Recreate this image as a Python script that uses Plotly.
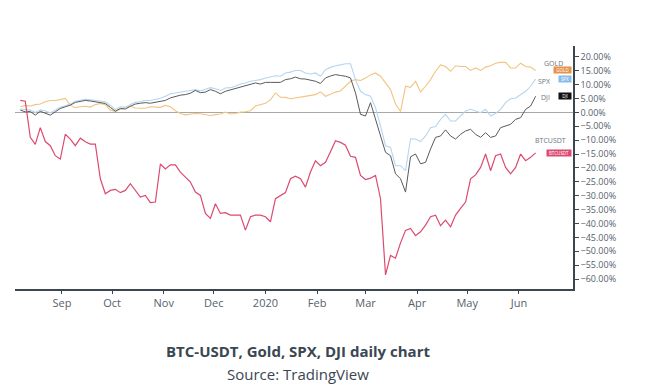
import plotly.graph_objects as go
import pandas as pd

# Dates: one reading every 3 days from Aug 7, 2019 to Jun 11, 2020
dates = pd.date_range("2019-08-07", periods=104, freq="3D")

btc = [4.3, 4.0, -9.0, -11.5, -5.5, -10.5, -12.0, -15.6, -16.8, -7.9,
       -9.6, -12.0, -9.3, -10.6, -11.4, -11.4, -23.9, -29.3, -28.1, -27.7,
       -28.9, -28.1, -25.7, -28.1, -30.5, -29.9, -32.5, -32.3, -18.6, -20.4,
       -18.9, -18.9, -21.5, -23.3, -25.1, -28.7, -29.9, -36.4, -38.2, -32.9,
       -36.4, -36.1, -37.0, -37.0, -37.0, -42.4, -37.6, -37.0, -37.0, -37.6,
       -39.4, -31.1, -29.9, -28.9, -23.9, -23.0, -23.9, -26.9, -21.5, -17.4,
       -19.2, -18.0, -14.2, -10.2, -10.8, -11.8, -15.8, -16.2, -22.7, -24.2,
       -23.7, -22.7, -31.1, -58.5, -51.5, -52.5, -47.0, -42.5, -41.8, -44.4,
       -43.0, -40.6, -37.6, -37.0, -40.8, -38.8, -41.2, -37.0, -34.6, -32.3,
       -23.9, -22.5, -19.8, -15.0, -21.0, -15.6, -15.0, -19.8, -22.1, -19.8,
       -15.0, -17.4, -16.2, -14.6]

gold = [2.0, 2.5, 2.3, 2.8, 3.0, 3.8, 4.3, 4.3, 4.6, 5.0,
        2.5, 1.7, 2.0, 2.2, 1.9, 2.8, 3.2, 2.8, 0.8, 0.3,
        1.1, 1.8, 2.2, 1.6, 1.5, 1.5, 2.0, 1.8, 1.8, 2.5,
        2.0, 0.6, -0.4, -0.9, -0.6, -0.4, -0.5, -0.9, -1.1, -0.8,
        -0.6, 0.1, -0.6, -0.4, 0.1, 0.2, 0.6, 2.3, 2.9, 3.3,
        4.5, 7.0, 5.5, 5.4, 4.9, 5.2, 5.5, 5.7, 6.1, 6.4,
        7.4, 5.8, 6.5, 7.3, 7.7, 9.4, 11.2, 11.8, 11.5, 12.4,
        13.5, 14.2, 13.0, 10.6, 8.2, 3.0, 0.3, 9.4, 9.0, 11.2,
        7.3, 9.4, 11.8, 14.8, 17.1, 16.5, 14.8, 16.8, 16.5, 16.5,
        15.1, 16.0, 15.1, 16.3, 16.8, 17.7, 18.0, 18.0, 16.0, 16.0,
        17.7, 16.5, 16.3, 15.1]

spx = [1.2, 1.0, 0.8, 0.0, 0.9, 0.6, -0.2, 0.8, 1.8, 2.4,
       3.0, 4.0, 4.3, 4.7, 4.5, 4.2, 4.1, 3.8, 2.5, 1.0,
       2.0, 1.8, 2.8, 3.6, 3.9, 4.3, 4.3, 4.6, 5.1, 5.8,
       6.7, 7.0, 7.4, 7.6, 7.9, 8.2, 7.7, 8.2, 8.9, 8.5,
       7.9, 8.8, 8.9, 9.4, 10.2, 10.6, 11.2, 11.5, 11.8, 12.4,
       12.9, 13.2, 13.0, 14.2, 14.5, 15.1, 15.1, 14.2, 13.8, 14.2,
       13.0, 15.4, 16.2, 16.8, 17.1, 17.5, 17.5, 11.8, 7.6, 6.4,
       5.8, 1.7, -4.9, -12.0, -12.6, -19.2, -19.2, -21.0, -9.5, -9.6,
       -10.5, -8.5, -5.5, -5.1, -2.5, -0.7, -3.1, -3.1, -1.3, 0.5,
       1.1, 0.5, -0.1, 1.1, -1.3, -0.4, 1.1, 3.5, 4.9, 5.2,
       6.4, 7.6, 9.4, 12.0]

dji = [0.8, 0.2, 0.3, -1.0, 0.4, -0.2, -1.0, 0.2, 1.4, 2.0,
       2.6, 3.6, 3.9, 4.3, 4.1, 3.8, 3.5, 3.2, 1.8, 0.4,
       1.4, 1.2, 2.2, 3.0, 3.3, 3.5, 3.3, 3.6, 3.8, 4.3,
       5.2, 5.8, 6.2, 6.4, 6.9, 7.9, 7.1, 7.3, 8.2, 7.6,
       6.7, 7.6, 8.1, 8.5, 9.0, 9.4, 10.0, 10.6, 10.2, 10.8,
       10.8, 10.8, 10.8, 11.8, 12.1, 12.7, 12.1, 12.0, 11.5, 11.2,
       10.4, 12.4, 13.1, 13.6, 13.3, 13.0, 12.4, 7.0, -0.7, -1.3,
       3.5, -2.5, -8.5, -14.4, -15.6, -22.1, -23.9, -28.7, -16.0, -15.0,
       -18.5, -18.0, -13.2, -9.0, -8.5, -6.3, -8.5, -9.6, -7.9, -6.7,
       -6.1, -7.9, -9.0, -7.3, -9.0, -8.5, -5.5, -4.9, -4.3, -2.5,
       -1.9, 1.1, 2.3, 5.8]

tick_dates = ["2019-09-01", "2019-10-01", "2019-11-01", "2019-12-01", "2020-01-01",
              "2020-02-01", "2020-03-01", "2020-04-01", "2020-05-01", "2020-06-01"]
tick_labels = ["Sep", "Oct", "Nov", "Dec", "2020", "Feb", "Mar", "Apr", "May", "Jun"]

series_names = ["GOLD", "SPX", "DJI", "BTCUSDT"]

FONT = "Open Sans"
AXIS = "#3b4650"
TXT = "#56616b"

col_gold, col_spx, col_dji, col_btc = "#f2c481", "#b5d5f1", "#5a5a5a", "#dc4a6f"
box_gold, box_spx, box_dji, box_btc = "#e8914a", "#86bdec", "#111111", "#dc4a6f"

fig = go.Figure()
fig.add_trace(go.Scatter(x=dates, y=gold, mode="lines", line=dict(color=col_gold, width=1.1)))
fig.add_trace(go.Scatter(x=dates, y=spx, mode="lines", line=dict(color=col_spx, width=1.1)))
fig.add_trace(go.Scatter(x=dates, y=dji, mode="lines", line=dict(color=col_dji, width=1.0)))
fig.add_trace(go.Scatter(x=dates, y=btc, mode="lines", line=dict(color=col_btc, width=1.2)))

annotations = []
# text labels next to last values
label_specs = [
    (series_names[0], gold[-1], -8, 7),
    (series_names[1], spx[-1], -20, -2.5),
    (series_names[2], dji[-1], -21, -1.5),
    (series_names[3], btc[-1], -5, 12),
]
for name, yv, xs, ys in label_specs:
    annotations.append(dict(xref="paper", yref="y", x=1, y=yv, xanchor="right", yanchor="middle",
                            xshift=xs, yshift=ys, text=name, showarrow=False,
                            font=dict(family=FONT, size=7, color="#6b7680")))
box_specs = [
    (series_names[0], gold[-1], box_gold, 16),
    (series_names[1], spx[-1], box_spx, 11),
    (series_names[2], dji[-1], box_dji, 11),
    (series_names[3], btc[-1], box_btc, 23),
]
for name, yv, bg, w in box_specs:
    annotations.append(dict(xref="paper", yref="y", x=1, y=yv, xanchor="right", yanchor="middle",
                            xshift=-1, text=name, showarrow=False, bgcolor=bg, width=w, height=5,
                            borderpad=0.5,
                            font=dict(family=FONT, size=4.5, color="white")))

annotations.append(dict(xref="paper", yref="paper", x=0.508, y=0, xanchor="center", yanchor="middle",
                        yshift=-62, showarrow=False,
                        text="<b>BTC-USDT, Gold, SPX, DJI daily chart</b>",
                        font=dict(family=FONT, size=15, color="#3a4753")))
annotations.append(dict(xref="paper", yref="paper", x=0.508, y=0, xanchor="center", yanchor="middle",
                        yshift=-85, showarrow=False,
                        text="Source: TradingView",
                        font=dict(family=FONT, size=15, color="#3a4753")))

# page body has an 8px default margin, so the figure is 8px smaller each way
fig.update_layout(
    width=642, height=381,
    margin=dict(l=7, r=77, t=38, b=100),
    paper_bgcolor="white", plot_bgcolor="white",
    showlegend=False,
    annotations=annotations,
    xaxis=dict(
        range=["2019-08-03 20:00", "2020-07-03 10:00"],
        tickvals=tick_dates, ticktext=tick_labels,
        showgrid=False, zeroline=False,
        showline=True, linecolor=AXIS, linewidth=1.5,
        ticks="outside", ticklen=3, tickcolor=AXIS, tickwidth=1,
        tickfont=dict(family=FONT, size=11, color=TXT),
    ),
    yaxis=dict(
        side="right",
        range=[-63.6, 23.9],
        dtick=5, tick0=0,
        tickformat=".2f", ticksuffix="%",
        showgrid=False,
        zeroline=True, zerolinecolor="#a8a8a8", zerolinewidth=1,
        showline=True, linecolor=AXIS, linewidth=1.5,
        ticks="outside", ticklen=4, tickcolor=AXIS, tickwidth=1,
        tickfont=dict(family=FONT, size=9, color=TXT),
    ),
)

fig.write_html("out.html")
